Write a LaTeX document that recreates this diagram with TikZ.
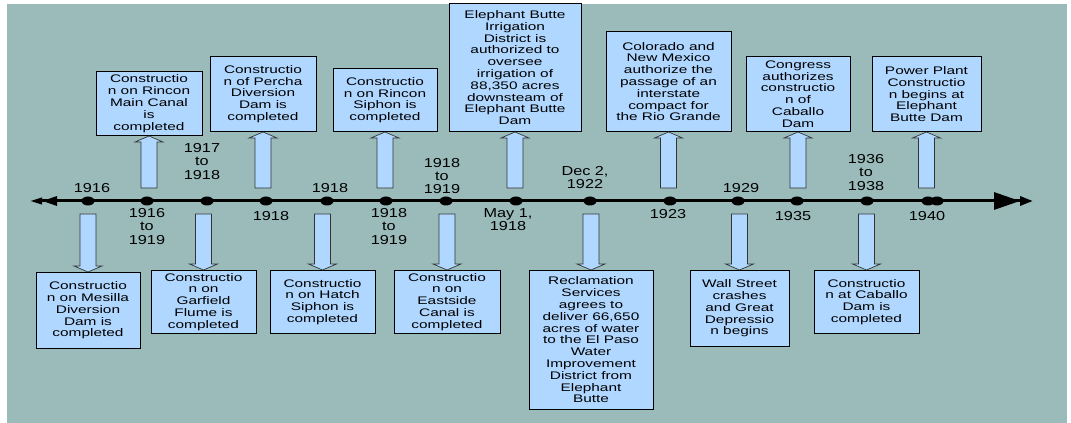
\documentclass[tikz,border=0pt]{standalone}
\usepackage{fontspec}
\setmainfont{Liberation Sans}[FakeStretch=1.4]
\newfontfamily\yearfont{Liberation Sans}[FakeStretch=1.25]
\definecolor{bgteal}{RGB}{155, 187, 187}
\definecolor{boxblue}{RGB}{175, 215, 255}
\usetikzlibrary{shapes.geometric, arrows.meta, calc}

\tikzset{
  evbox/.style={draw=black, line width=0.6pt, fill=boxblue, inner sep=0pt, align=center,
    font=\fontsize{8.25pt}{8.85pt}\selectfont},
  yearlbl/.style={inner sep=0pt, align=center, font=\yearfont\fontsize{9.75pt}{10pt}\selectfont},
  evdot/.style={ellipse, fill=black, inner sep=0pt, minimum width=9.75pt, minimum height=6.75pt},
  blockarr/.style={draw=black!80, line width=0.5pt, fill=boxblue},
  timeline/.style={line width=2.25pt,
    {Triangle[length=9.75pt, width=4.5pt] Triangle[length=11.25pt, width=6.75pt]}-{Triangle[length=19.5pt, width=12.75pt] Triangle[length=9.75pt, width=6.75pt]}}
}

% block arrow from a dot up to the box above it
\newcommand{\evup}[2]{%
  \draw[blockarr] let \p1=(#1), \p2=(#2.south) in
    (\x2-6pt,\y1+9.75pt) -- (\x2-6pt,\y2-4.5pt) -- (\x2-10.5pt,\y2-4.5pt) -- (\x2,\y2)
    -- (\x2+10.5pt,\y2-4.5pt) -- (\x2+6pt,\y2-4.5pt) -- (\x2+6pt,\y1+9.75pt) -- cycle;}
% block arrow from a dot down to the box below it
\newcommand{\evdown}[2]{%
  \draw[blockarr] let \p1=(#1), \p2=(#2.north) in
    (\x2-6pt,\y1-9.75pt) -- (\x2-6pt,\y2+4.5pt) -- (\x2-10.5pt,\y2+4.5pt) -- (\x2,\y2)
    -- (\x2+10.5pt,\y2+4.5pt) -- (\x2+6pt,\y2+4.5pt) -- (\x2+6pt,\y1-9.75pt) -- cycle;}

\begin{document}
\begin{tikzpicture}[x=0.75pt, y=-0.75pt]
  \useasboundingbox (0,0) rectangle (1071,423);
  \fill[white] (0,0) rectangle (1071,423);
  \fill[bgteal] (7,4) rectangle (1067,423);

  % Timeline
  \coordinate (tlstart) at (29,201);
  \coordinate (tlend) at (1033,201);
  \draw[timeline] (tlstart) -- (tlend);
  \foreach \x [count=\i] in {88,147,207,266,327,386,446,516,590,670,738,797,867,928,937}
    \node[evdot] (d\i) at (\x,201) {};

  % Dates above the line
  \node[yearlbl] (y1) at (92,188) {1916};
  \node[yearlbl] (y3) at (202,161.5) {1917\\to\\1918};
  \node[yearlbl] (y5) at (330,188) {1918};
  \node[yearlbl] (y7) at (442,176) {1918\\to\\1919};
  \node[yearlbl] (y9) at (585,177.5) {Dec 2,\\1922};
  \node[yearlbl] (y11) at (741,188) {1929};
  \node[yearlbl] (y13) at (866,172.5) {1936\\to\\1938};

  % Dates below the line
  \node[yearlbl] (y2) at (147,226.5) {1916\\to\\1919};
  \node[yearlbl] (y4) at (271,216.5) {1918};
  \node[yearlbl] (y6) at (389,226.5) {1918\\to\\1919};
  \node[yearlbl] (y8) at (508,219.5) {May 1,\\1918};
  \node[yearlbl] (y10) at (668,214.5) {1923};
  \node[yearlbl] (y12) at (793,216.5) {1935};
  \node[yearlbl] (y14) at (927,216.5) {1940};

  % Events above
  \node[evbox, anchor=south, minimum width=79.5pt, minimum height=48pt] (rincon) at (149,136)
    {Constructio\\n on Rincon\\Main Canal\\is\\completed};
  \node[evbox, anchor=south, minimum width=79.5pt, minimum height=56.25pt] (percha) at (263,132)
    {Constructio\\n of Percha\\Diversion\\Dam is\\completed};
  \node[evbox, anchor=south, minimum width=78pt, minimum height=47.25pt] (siphon) at (385,132)
    {Constructio\\n on Rincon\\Siphon is\\completed};
  \node[evbox, anchor=south, minimum width=99pt, minimum height=96pt] (ebid) at (515,132)
    {Elephant Butte\\Irrigation\\District is\\authorized to\\oversee\\irrigation of\\88,350 acres\\downsteam of\\Elephant Butte\\Dam};
  \node[evbox, anchor=south, minimum width=93.75pt, minimum height=75pt] (compact) at (668.5,132)
    {Colorado and\\New Mexico\\authorize the\\passage of an\\interstate\\compact for\\the Rio Grande};
  \node[evbox, anchor=south, minimum width=78pt, minimum height=56.25pt] (congress) at (798,132)
    {Congress\\authorizes\\constructio\\n of\\Caballo\\Dam};
  \node[evbox, anchor=south, minimum width=81.75pt, minimum height=56.25pt] (power) at (926.5,132)
    {Power Plant\\Constructio\\n begins at\\Elephant\\Butte Dam};

  % Events below
  \node[evbox, anchor=north, minimum width=78pt, minimum height=57pt] (mesilla) at (88,272)
    {Constructio\\n on Mesilla\\Diversion\\Dam is\\completed};
  \node[evbox, anchor=north, minimum width=78.75pt, minimum height=47.25pt] (garfield) at (203.5,270)
    {Constructio\\n on\\Garfield\\Flume is\\completed};
  \node[evbox, anchor=north, minimum width=78.75pt, minimum height=47.25pt] (hatch) at (322.5,270)
    {Constructio\\n on Hatch\\Siphon is\\completed};
  \node[evbox, anchor=north, minimum width=79.5pt, minimum height=47.25pt] (eastside) at (447,270)
    {Constructio\\n on\\Eastside\\Canal is\\completed};
  \node[evbox, anchor=north, minimum width=93pt, minimum height=104.25pt] (reclam) at (591,270)
    {Reclamation\\Services\\agrees to\\deliver 66,650\\acres of water\\to the El Paso\\Water\\Improvement\\District from\\Elephant\\Butte};
  \node[evbox, anchor=north, minimum width=74.25pt, minimum height=57pt] (wallst) at (739.5,270)
    {Wall Street\\crashes\\and Great\\Depressio\\n begins};
  \node[evbox, anchor=north, minimum width=78.75pt, minimum height=47.25pt] (caballo) at (866.5,270)
    {Constructio\\n at Caballo\\Dam is\\completed};

  % Arrows
  \evup{d2}{rincon}
  \evup{d4}{percha}
  \evup{d6}{siphon}
  \evup{d8}{ebid}
  \evup{d10}{compact}
  \evup{d12}{congress}
  \evup{d14}{power}
  \evdown{d1}{mesilla}
  \evdown{d3}{garfield}
  \evdown{d5}{hatch}
  \evdown{d7}{eastside}
  \evdown{d9}{reclam}
  \evdown{d11}{wallst}
  \evdown{d13}{caballo}
\end{tikzpicture}
\end{document}
